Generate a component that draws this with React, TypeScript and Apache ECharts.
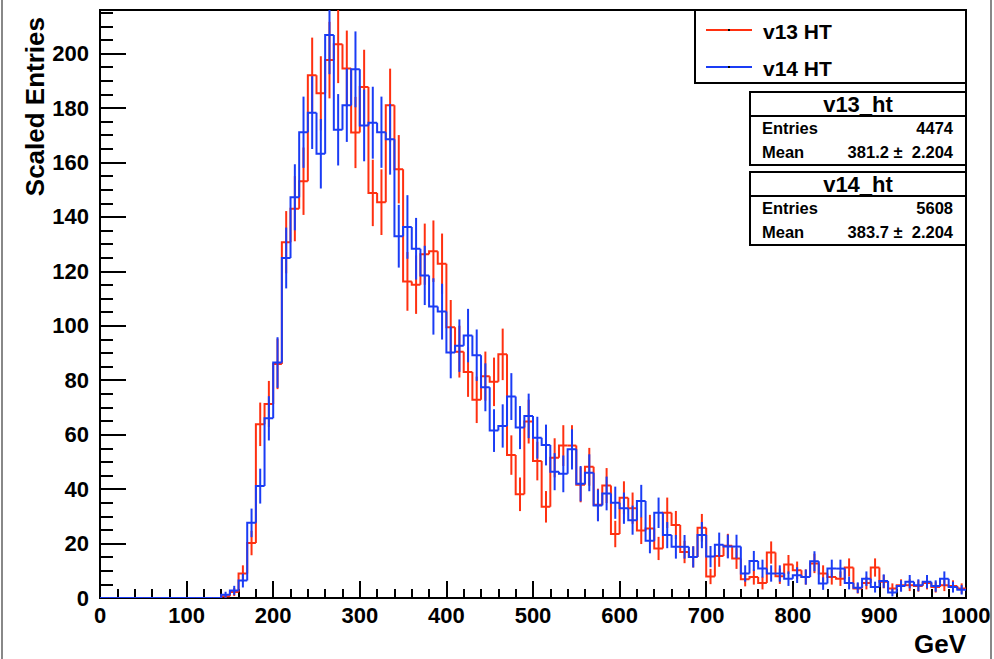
import React, { useEffect, useRef } from "react";
import * as echarts from "echarts";

const BIN_WIDTH = 10;
const X_MIN = 0;
const X_MAX = 1000;
const Y_MAX = 216;

const SERIES_NAMES = ["v13 HT", "v14 HT"];
const COLORS = ["#ff3010", "#1a3cf5"];

// v13 HT (red), 100 bins of 10 GeV
const v13 = [
  0, 0, 0, 0, 0, 0, 0, 0, 0, 0,
  0, 0, 0, 0, 0.6, 2.2, 9, 20.2, 63.8, 71.3,
  86, 130.7, 143, 153.1, 192, 185.4, 197.6, 203.4, 194.5, 171,
  187.7, 148.8, 145.4, 181, 157.5, 116.3, 115.1, 126.3, 127.4, 122.8,
  99.5, 90.5, 83, 72.8, 81.5, 79.4, 89.5, 52.5, 38.1, 64.8,
  50.3, 33.5, 51.5, 56, 56, 41.6, 48.2, 34.3, 41.3, 23.5,
  36.8, 33, 24.8, 25.5, 18.2, 31.3, 26.8, 16.9, 15.1, 25.8,
  7.9, 15.4, 19.2, 14.5, 6.9, 7.7, 5.5, 16.7, 8, 12.3,
  10.2, 7.7, 12.7, 9, 7.7, 7.1, 11.2, 3.5, 5.5, 11.2,
  6, 3.5, 4.7, 4.7, 4.4, 5.5, 4, 4.7, 4.4, 3.5,
];

// v14 HT (blue)
const v14 = [
  0, 0, 0, 0, 0, 0, 0, 0, 0, 0,
  0, 0, 0, 0, 1.2, 2.8, 6.4, 27.6, 41.1, 66,
  86.5, 124.9, 147.2, 171.1, 178.3, 163.2, 206.8, 172, 181, 194.2,
  173.6, 174.6, 171.1, 168.5, 132.9, 136.3, 128.3, 118.5, 107.1, 105.2,
  90.2, 92.7, 96.4, 89.2, 77.4, 61.5, 63.2, 74, 62.6, 66.9,
  58.9, 56.2, 46.4, 45.6, 54.6, 42, 46, 34, 38.4, 35,
  33, 28.6, 35.6, 21, 31.3, 23.1, 18.8, 18.8, 15.1, 23.1,
  15.2, 19.6, 18.9, 18.9, 9, 13.6, 10.8, 9, 9, 7.1,
  8.4, 7.7, 13.5, 5.3, 10.8, 10.8, 5.5, 3.8, 7.1, 4,
  6.2, 2, 4.4, 6, 4.7, 6, 4.4, 7.1, 4, 3,
];

const STATS = [
  { title: "v13_ht", entries: "4474", mean: "381.2 \u00b1  2.204" },
  { title: "v14_ht", entries: "5608", mean: "383.7 \u00b1  2.204" },
];

const FONT = '"Liberation Sans", Arial, Helvetica, sans-serif';

function histData(vals: number[]) {
  return vals.map((v, i) => [
    X_MIN + i * BIN_WIDTH,
    X_MIN + (i + 1) * BIN_WIDTH,
    v,
    i > 0 ? vals[i - 1] : 0,
    Math.sqrt(v),
  ]);
}

function makeSeries(name: string, vals: number[], color: string) {
  return {
    type: "custom",
    name,
    clip: true,
    xAxisIndex: 0,
    yAxisIndex: 0,
    encode: { x: [0, 1], y: 2 },
    data: histData(vals),
    renderItem: (params: any, api: any) => {
      const x0 = api.value(0);
      const x1 = api.value(1);
      const v = api.value(2);
      const prev = api.value(3);
      const err = api.value(4);
      const pPrev = api.coord([x0, prev]);
      const pL = api.coord([x0, v]);
      const pR = api.coord([x1, v]);
      const children: any[] = [
        {
          type: "polyline",
          shape: { points: [pPrev, pL, pR] },
          style: { stroke: color, lineWidth: 2, fill: null },
        },
      ];
      if (err > 0) {
        const xc = (x0 + x1) / 2;
        const eT = api.coord([xc, v + err]);
        const eB = api.coord([xc, Math.max(0, v - err)]);
        children.push({
          type: "line",
          shape: { x1: eT[0], y1: eT[1], x2: eB[0], y2: eB[1] },
          style: { stroke: color, lineWidth: 2 },
        });
      }
      return { type: "group", children };
    },
  };
}

function statsBox(top: number, s: { title: string; entries: string; mean: string }) {
  const left = 750;
  const w = 216;
  const h = 73;
  return [
    { type: "rect", shape: { x: left, y: top, width: w, height: h }, style: { fill: "#fff", stroke: "#000", lineWidth: 2 }, z: 10 },
    { type: "line", shape: { x1: left, y1: top + 24, x2: left + w, y2: top + 24 }, style: { stroke: "#000", lineWidth: 2 }, z: 11 },
    { type: "text", x: left + w / 2, y: top + 12, style: { text: s.title, font: `bold 22px ${FONT}`, fill: "#000", align: "center", verticalAlign: "middle" }, z: 11 },
    { type: "text", x: left + 12, y: top + 36, style: { text: "Entries", font: `bold 16.5px ${FONT}`, fill: "#000", align: "left", verticalAlign: "middle" }, z: 11 },
    { type: "text", x: left + w - 13, y: top + 36, style: { text: s.entries, font: `bold 16.5px ${FONT}`, fill: "#000", align: "right", verticalAlign: "middle" }, z: 11 },
    { type: "text", x: left + 12, y: top + 60, style: { text: "Mean", font: `bold 16.5px ${FONT}`, fill: "#000", align: "left", verticalAlign: "middle" }, z: 11 },
    { type: "text", x: left + w - 13, y: top + 60, style: { text: s.mean, font: `bold 16.5px ${FONT}`, fill: "#000", align: "right", verticalAlign: "middle" }, z: 11 },
  ];
}

export default function App() {
  const ref = useRef<HTMLDivElement>(null);
  useEffect(() => {
    if (!ref.current) return;
    const chart = echarts.init(ref.current, null, { renderer: "svg" });
    const tickStyle = { color: "#000", width: 2 };
    const legendItems: any[] = [
      { type: "rect", shape: { x: 695, y: 10, width: 271, height: 73 }, style: { fill: "#fff", stroke: "#000", lineWidth: 2 }, z: 10 },
    ];
    SERIES_NAMES.forEach((n, k) => {
      const ly = k === 0 ? 30 : 67;
      legendItems.push(
        { type: "line", shape: { x1: 706, y1: ly, x2: 752, y2: ly }, style: { stroke: COLORS[k], lineWidth: 2 }, z: 11 },
        { type: "rect", shape: { x: 728, y: ly - 1, width: 2, height: 2 }, style: { fill: "#000" }, z: 12 },
        { type: "text", x: 763, y: ly + 1, style: { text: n, font: `bold 21px ${FONT}`, fill: "#000", align: "left", verticalAlign: "middle" }, z: 11 }
      );
    });

    chart.setOption({
      animation: false,
      backgroundColor: "#fff",
      grid: {
        left: 100,
        right: 28,
        top: 10,
        bottom: 61,
        show: true,
        borderColor: "#000",
        borderWidth: 2,
        backgroundColor: "transparent",
      },
      xAxis: {
        type: "value",
        min: X_MIN,
        max: X_MAX,
        interval: 100,
        axisLine: { show: true, onZero: false, lineStyle: { color: "#000", width: 2 } },
        axisTick: { show: true, inside: true, length: 17, lineStyle: tickStyle },
        minorTick: { show: true, splitNumber: 5, length: 9, lineStyle: tickStyle },
        splitLine: { show: false },
        minorSplitLine: { show: false },
        axisLabel: {
          color: "#000",
          fontFamily: FONT,
          fontWeight: "bold",
          fontSize: 22,
          margin: 6,
          formatter: (v: number) => String(v),
        },
      },
      yAxis: [
        {
          type: "value",
          min: 0,
          max: Y_MAX,
          interval: 20,
          position: "left",
          axisLine: { show: true, onZero: false, lineStyle: { color: "#000", width: 2 } },
          axisTick: { show: true, inside: true, length: 26, lineStyle: tickStyle },
          splitLine: { show: false },
          axisLabel: {
            color: "#000",
            fontFamily: FONT,
            fontWeight: "bold",
            fontSize: 22,
            margin: 11,
            formatter: (v: number) => (v % 20 === 0 ? String(v) : ""),
          },
        },
        {
          type: "value",
          min: 0,
          max: Y_MAX,
          interval: 5,
          position: "left",
          offset: 0,
          axisLine: { show: false },
          axisTick: { show: true, inside: true, length: 13, lineStyle: tickStyle },
          splitLine: { show: false },
          axisLabel: { show: false },
        },
      ],
      series: [
        makeSeries(SERIES_NAMES[0], v13, COLORS[0]),
        makeSeries(SERIES_NAMES[1], v14, COLORS[1]),
      ],
      graphic: [
        { type: "line", shape: { x1: 2, y1: 0, x2: 2, y2: 659 }, style: { stroke: "#888", lineWidth: 2 } },
        { type: "line", shape: { x1: 991, y1: 0, x2: 991, y2: 659 }, style: { stroke: "#888", lineWidth: 2 } },
        {
          type: "text",
          x: 35,
          y: 17,
          rotation: Math.PI / 2,
          style: { text: "Scaled Entries", font: `bold 26px ${FONT}`, fill: "#000", align: "right", verticalAlign: "middle" },
        },
        {
          type: "text",
          x: 966,
          y: 644,
          style: { text: "GeV", font: `bold 26px ${FONT}`, fill: "#000", align: "right", verticalAlign: "middle" },
        },
        ...legendItems,
        ...statsBox(92, STATS[0]),
        ...statsBox(172, STATS[1]),
      ],
    });
    return () => chart.dispose();
  }, []);
  return (
    <div
      ref={ref}
      style={{ position: "fixed", left: 0, top: 0, width: 994, height: 659, background: "#fff" }}
    />
  );
}
